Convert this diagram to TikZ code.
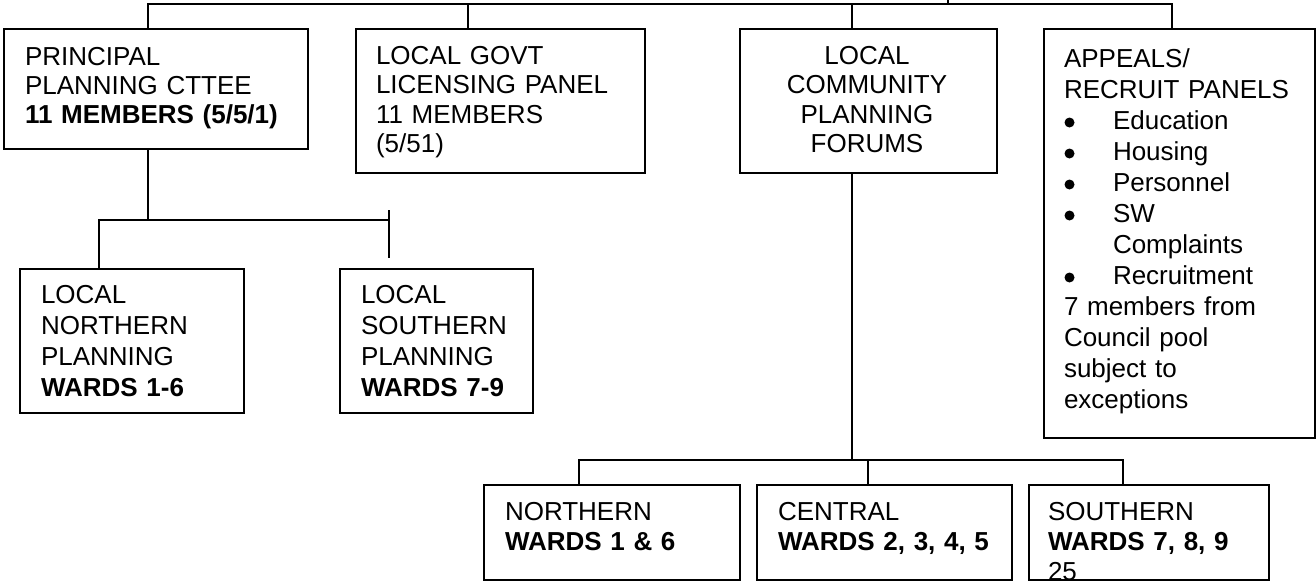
\documentclass[tikz,border=0pt]{standalone}
\usepackage{fontspec}
\setmainfont{Liberation Sans}
\begin{document}
\begin{tikzpicture}[x=1pt,y=-1pt,
  box/.style={draw, line width=1.8pt, rectangle, inner sep=0pt, anchor=north west},
  conn/.style={line width=1.8pt},
  dot/.style={circle, fill, inner sep=0pt, minimum size=10pt},
  txt/.style={anchor=base west, inner sep=0pt, outer sep=0pt, text width=280pt, align=left,
              font=\fontsize{26}{#1}\selectfont},
  ctxt/.style={anchor=base, inner sep=0pt, outer sep=0pt, text width=250pt, align=center,
              font=\fontsize{26}{#1}\selectfont}]
\useasboundingbox (0,0) rectangle (1316,584);

% boxes
\node[box, minimum width=304pt, minimum height=120pt] (b1) at (3,28) {};
\node[box, minimum width=289pt, minimum height=144pt] (b2) at (355,28) {};
\node[box, minimum width=257pt, minimum height=144pt] (b3) at (739,28) {};
\node[box, minimum width=271pt, minimum height=409pt] (b4) at (1043,28) {};
\node[box, minimum width=224pt, minimum height=144pt] (b5) at (19,268) {};
\node[box, minimum width=193pt, minimum height=144pt] (b6) at (339,268) {};
\node[box, minimum width=256pt, minimum height=95pt] (b7) at (483,484) {};
\node[box, minimum width=255pt, minimum height=95pt] (b8) at (756,484) {};
\node[box, minimum width=240pt, minimum height=95pt] (b9) at (1028,484) {};

% texts
\node[txt=29] (b1t) at (25,65) {PRINCIPAL\\PLANNING CTTEE\\\textbf{11 MEMBERS (5/5/1)}};
\node[txt=29.5] (b2t) at (376,64) {LOCAL GOVT\\LICENSING PANEL\\11 MEMBERS\\(5/51)};
\node[ctxt=29.5] (b3t) at (867,64) {LOCAL\\COMMUNITY\\PLANNING\\FORUMS};
\node[txt=31] (b4t) at (1064,67) {APPEALS/\\RECRUIT PANELS\\
  \hspace*{49pt}Education\\
  \hspace*{49pt}Housing\\
  \hspace*{49pt}Personnel\\
  \hspace*{49pt}SW\\
  \hspace*{49pt}Complaints\\
  \hspace*{49pt}Recruitment\\
  7 members from\\Council pool\\subject to\\exceptions};
% list bullets
\node[dot] (d1) at (1069.5,122.5) {};
\node[dot] (d2) at (1069.5,153.5) {};
\node[dot] (d3) at (1069.5,184.5) {};
\node[dot] (d4) at (1069.5,215.5) {};
\node[dot] (d5) at (1069.5,277.5) {};
\node[txt=31] (b5t) at (41,303) {LOCAL\\NORTHERN\\PLANNING\\\textbf{WARDS 1-6}};
\node[txt=31] (b6t) at (361,303) {LOCAL\\SOUTHERN\\PLANNING\\\textbf{WARDS 7-9}};
\node[txt=30] (b7t) at (505,520) {NORTHERN\\\textbf{WARDS 1 \& 6}};
\node[txt=30] (b8t) at (778,520) {CENTRAL\\\textbf{WARDS 2, 3, 4, 5}};
\node[txt=30] (b9t) at (1048,520) {SOUTHERN\\\textbf{WARDS 7, 8, 9}\\25};

% top bus
\coordinate (t1) at (148,4);
\coordinate (t2) at (468,4);
\coordinate (t3) at (852,4);
\coordinate (t4) at (1172,4);
\coordinate (up) at (948,0);
\draw[conn] (t1 |- b1.north) -- (t1) -- (t4) -- (t4 |- b4.north);
\draw[conn] (t2) -- (t2 |- b2.north);
\draw[conn] (t3) -- (t3 |- b3.north);
\draw[conn] (up) -- (up |- t1);

% planning sub-committees
\coordinate (l0) at (148,220);
\coordinate (l1) at (99,220);
\coordinate (l2) at (389,220);
\coordinate (tickA) at (389,210);
\coordinate (tickB) at (389,258);
\draw[conn] (b1.south -| l0) -- (l0);
\draw[conn] (l1 |- b5.north) -- (l1) -- (l2);
\draw[conn] (tickA) -- (tickB);

% community planning forums
\coordinate (m0) at (852,460);
\coordinate (m1) at (579,460);
\coordinate (m2) at (868,460);
\coordinate (m3) at (1123,460);
\draw[conn] (b3.south -| m0) -- (m0);
\draw[conn] (m1 |- b7.north) -- (m1) -- (m3) -- (m3 |- b9.north);
\draw[conn] (m2) -- (m2 |- b8.north);
\end{tikzpicture}
\end{document}
